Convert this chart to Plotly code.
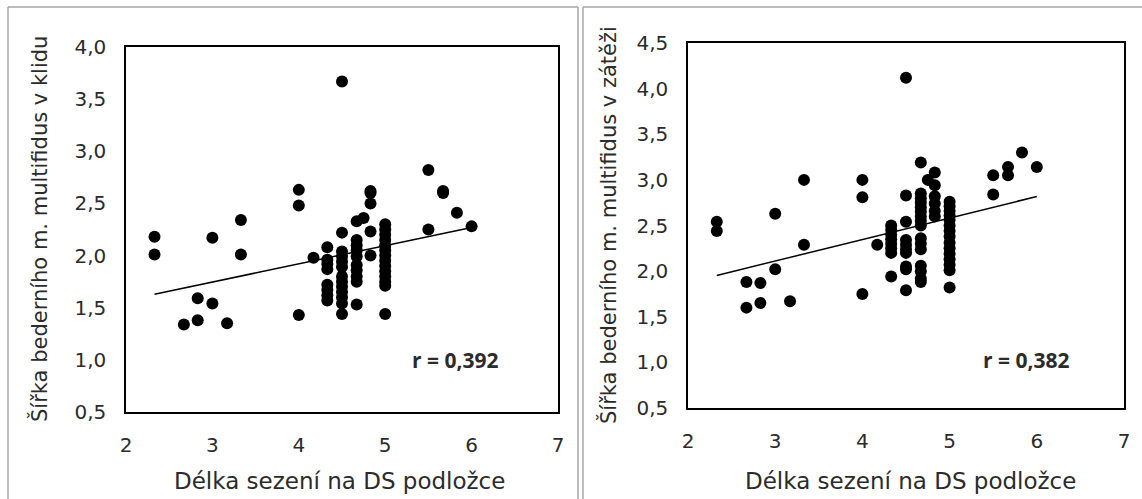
import numpy as np
import plotly.graph_objects as go

W, H = 1142, 499

# ---- data: left panel (rest) ----
left_x = [2.33, 2.33, 2.67, 2.83, 2.83, 3.0, 3.0, 3.17, 3.33, 3.33,
          4.0, 4.0, 4.0, 4.17,
          4.33, 4.33, 4.33, 4.33, 4.33, 4.33, 4.33, 4.33,
          4.5, 4.5, 4.5, 4.5, 4.5, 4.5, 4.5, 4.5, 4.5, 4.5, 4.5, 4.5, 4.5,
          4.67, 4.67, 4.67, 4.67, 4.67, 4.67, 4.67, 4.67, 4.67, 4.67,
          4.75,
          4.83, 4.83, 4.83, 4.83, 4.83,
          5.0, 5.0, 5.0, 5.0, 5.0, 5.0, 5.0, 5.0, 5.0, 5.0, 5.0, 5.0, 5.0, 5.0,
          5.5, 5.5, 5.67, 5.67, 5.83, 6.0]
left_y = [2.18, 2.01, 1.34, 1.38, 1.59, 1.54, 2.17, 1.35, 2.34, 2.01,
          2.63, 2.48, 1.43, 1.98,
          2.08, 1.96, 1.92, 1.87, 1.72, 1.67, 1.62, 1.57,
          3.67, 2.22, 2.04, 1.99, 1.94, 1.89, 1.80, 1.75, 1.70, 1.65, 1.60, 1.54, 1.44,
          2.33, 2.15, 2.10, 2.05, 1.99, 1.91, 1.86, 1.80, 1.75, 1.53,
          2.36,
          2.62, 2.60, 2.50, 2.23, 2.00,
          2.30, 2.25, 2.20, 2.15, 2.10, 2.05, 2.00, 1.95, 1.90, 1.85, 1.80, 1.75, 1.71, 1.44,
          2.82, 2.25, 2.62, 2.60, 2.41, 2.28]

# ---- data: right panel (load) ----
right_x = [2.33, 2.33, 2.67, 2.67, 2.83, 2.83, 3.0, 3.0, 3.17, 3.33, 3.33,
           4.0, 4.0, 4.0, 4.17,
           4.33, 4.33, 4.33, 4.33, 4.33, 4.33, 4.33, 4.33,
           4.5, 4.5, 4.5, 4.5, 4.5, 4.5, 4.5, 4.5, 4.5, 4.5,
           4.67, 4.67, 4.67, 4.67, 4.67, 4.67, 4.67, 4.67, 4.67, 4.67, 4.67, 4.67,
           4.67, 4.67, 4.67, 4.67,
           4.75,
           4.83, 4.83, 4.83, 4.83, 4.83, 4.83,
           5.0, 5.0, 5.0, 5.0, 5.0, 5.0, 5.0, 5.0, 5.0, 5.0, 5.0, 5.0, 5.0, 5.0, 5.0,
           5.5, 5.5, 5.67, 5.67, 5.83, 6.0]
right_y = [2.54, 2.44, 1.88, 1.60, 1.87, 1.65, 2.63, 2.02, 1.67, 3.00, 2.29,
           3.00, 2.81, 1.75, 2.29,
           2.50, 2.45, 2.40, 2.35, 2.30, 2.25, 2.20, 1.94,
           4.12, 2.83, 2.54, 2.34, 2.29, 2.24, 2.20, 2.05, 2.02, 1.79,
           3.19, 2.85, 2.80, 2.75, 2.70, 2.65, 2.60, 2.55, 2.50, 2.36, 2.30, 2.24,
           2.06, 2.00, 1.92, 1.88,
           3.00,
           3.08, 2.94, 2.82, 2.74, 2.66, 2.60,
           2.76, 2.71, 2.66, 2.61, 2.56, 2.50, 2.44, 2.38, 2.31, 2.25, 2.19, 2.13, 2.07, 2.01, 1.82,
           3.05, 2.84, 3.14, 3.05, 3.30, 3.14]

x_title = "Délka sezení na DS podložce"
left_y_title = "Šířka bederního m. multifidus v klidu"
right_y_title = "Šířka bederního m. multifidus v zátěži"
left_r_label = "r = 0,392"
right_r_label = "r = 0,382"

FONT = "DejaVu Sans"
TXT = "#2b2b2b"


def px(x):
    return x / W


def py(y):
    return 1 - y / H


def trend(xs, ys):
    k, q = np.polyfit(xs, ys, 1)
    x0, x1 = min(xs), max(xs)
    return [x0, x1], [k * x0 + q, k * x1 + q]


fig = go.Figure()

fig.add_trace(go.Scatter(x=left_x, y=left_y, mode="markers",
                         marker=dict(size=12, color="black"), xaxis="x", yaxis="y",
                         showlegend=False))
tx, ty = trend(left_x, left_y)
fig.add_trace(go.Scatter(x=tx, y=ty, mode="lines", line=dict(color="black", width=1.5),
                         xaxis="x", yaxis="y", showlegend=False))

fig.add_trace(go.Scatter(x=right_x, y=right_y, mode="markers",
                         marker=dict(size=12, color="black"), xaxis="x2", yaxis="y2",
                         showlegend=False))
tx2, ty2 = trend(right_x, right_y)
fig.add_trace(go.Scatter(x=tx2, y=ty2, mode="lines", line=dict(color="black", width=1.5),
                         xaxis="x2", yaxis="y2", showlegend=False))

axis_common = dict(showline=True, mirror=True, linecolor="black", linewidth=1.5,
                   showgrid=False, zeroline=False, ticks="", automargin=False,
                   tickfont=dict(family=FONT, size=20, color=TXT))

fig.update_layout(
    width=W, height=H,
    margin=dict(l=0, r=0, t=0, b=0),
    paper_bgcolor="white", plot_bgcolor="white",
    separators=",.",
    showlegend=False,
    xaxis=dict(domain=[px(126), px(558)], range=[2, 7], dtick=1, anchor="y",
               ticklabelstandoff=14, **axis_common),
    yaxis=dict(domain=[py(412), py(47)], range=[0.5, 4.0], dtick=0.5, tickformat=".1f",
               anchor="x", ticklabelstandoff=14, **axis_common),
    xaxis2=dict(domain=[px(688), px(1124)], range=[2, 7], dtick=1, anchor="y2",
                ticklabelstandoff=14, **axis_common),
    yaxis2=dict(domain=[py(408), py(43)], range=[0.5, 4.5], dtick=0.5, tickformat=".1f",
                anchor="x2", ticklabelstandoff=14, **axis_common),
)

title_font = dict(family=FONT, size=23, color=TXT)
ann = [
    dict(text=x_title, x=px(339), y=py(481), xref="paper", yref="paper",
         showarrow=False, font=title_font, xanchor="center", yanchor="middle"),
    dict(text=x_title, x=px(910), y=py(481), xref="paper", yref="paper",
         showarrow=False, font=title_font, xanchor="center", yanchor="middle"),
    dict(text=left_y_title, x=px(39), y=py(229), xref="paper", yref="paper",
         showarrow=False, font=dict(family=FONT, size=21, color=TXT), textangle=-90,
         xanchor="center", yanchor="middle"),
    dict(text=right_y_title, x=px(608), y=py(225), xref="paper", yref="paper",
         showarrow=False, font=dict(family=FONT, size=21, color=TXT), textangle=-90,
         xanchor="center", yanchor="middle"),
    dict(text="<b>" + left_r_label + "</b>", x=5.81, y=1.0, xref="x", yref="y",
         showarrow=False, font=dict(family="Open Sans", size=21, color=TXT)),
    dict(text="<b>" + right_r_label + "</b>", x=5.88, y=1.03, xref="x2", yref="y2",
         showarrow=False, font=dict(family="Open Sans", size=21, color=TXT)),
]
fig.update_layout(annotations=ann)

# panel frames
border = dict(color="#a6a6a6", width=1.5)
shapes = [
    dict(type="line", xref="paper", yref="paper", x0=px(8), x1=px(578), y0=py(7), y1=py(7), line=border),
    dict(type="line", xref="paper", yref="paper", x0=px(8), x1=px(8), y0=py(7), y1=py(499), line=border),
    dict(type="line", xref="paper", yref="paper", x0=px(578), x1=px(578), y0=py(7), y1=py(499), line=border),
    dict(type="line", xref="paper", yref="paper", x0=px(583), x1=px(1142), y0=py(7), y1=py(7), line=border),
    dict(type="line", xref="paper", yref="paper", x0=px(583), x1=px(583), y0=py(7), y1=py(499), line=border),
]
fig.update_layout(shapes=shapes)

fig.write_html("out.html", config={"displayModeBar": False},
               post_script="document.body.style.margin='0';")
